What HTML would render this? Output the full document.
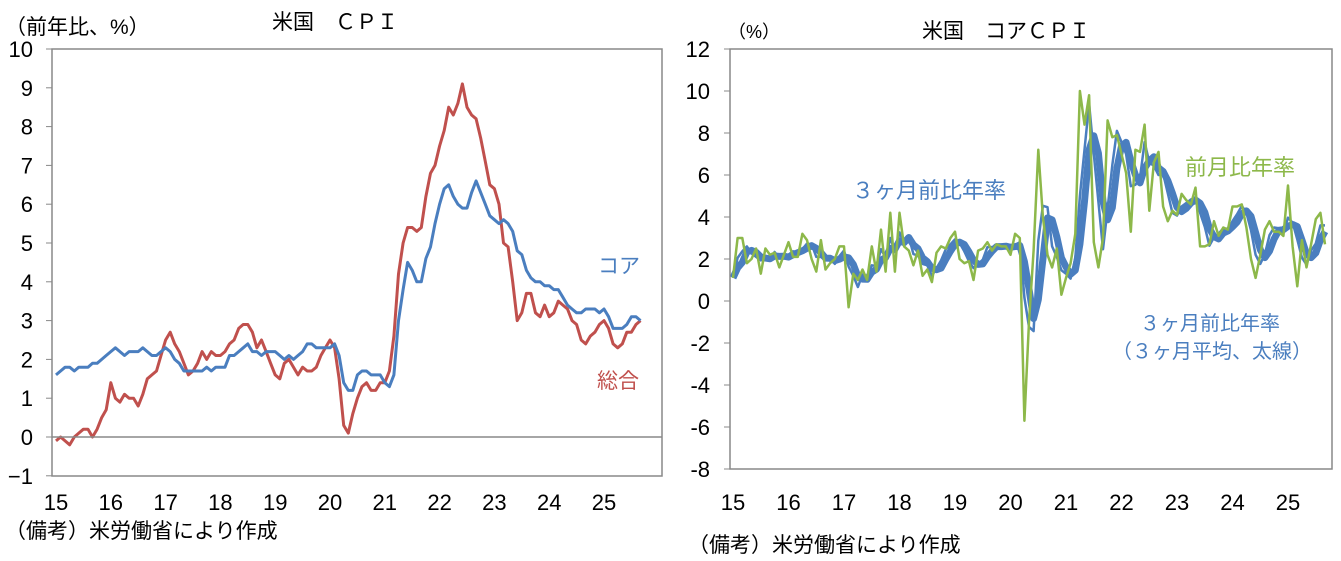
<!DOCTYPE html>
<html><head><meta charset="utf-8"><style>
body{margin:0;background:#fff;width:1341px;height:556px;overflow:hidden}
svg text{font-family:"Liberation Sans","Noto Sans CJK JP",sans-serif}
</style></head><body>
<svg id="s" width="1341" height="556" xmlns="http://www.w3.org/2000/svg">
<rect width="1341" height="556" fill="#fff"/>
<text x="5" y="34" font-size="21" fill="#000">（前年比、%）</text>
<text x="272" y="29" font-size="21" fill="#000">米国　ＣＰＩ</text>
<g id="L"></g>
<rect x="52" y="49" width="610" height="427" fill="none" stroke="#888" stroke-width="1.5"/>
<line x1="52" y1="437" x2="662" y2="437" stroke="#888" stroke-width="1.5"/>
<text x="598" y="273" font-size="21" fill="#4a7ebf">コア</text>
<text x="597" y="388" font-size="21" fill="#c0504d">総合</text>
<text x="5" y="538" font-size="21" fill="#000">（備考）米労働省により作成</text>
<text x="728" y="38" font-size="18" fill="#000">（%）</text>
<text x="922" y="38" font-size="21" fill="#000">米国　コアＣＰＩ</text>
<g id="R"></g>
<rect x="730" y="49" width="602" height="420" fill="none" stroke="#888" stroke-width="1.5"/>
<text x="1185" y="175" font-size="22" fill="#8db84a">前月比年率</text>
<text x="852" y="198" font-size="22" fill="#4a7ebf">３ヶ月前比年率</text>
<text x="1140" y="330" font-size="20" fill="#4a7ebf">３ヶ月前比年率</text>
<text x="1112" y="358" font-size="20" fill="#4a7ebf">（３ヶ月平均、太線）</text>
<text x="688" y="552" font-size="21" fill="#000">（備考）米労働省により作成</text>
</svg>
<script>
var NS="http://www.w3.org/2000/svg";
function el(p,t,a,txt){var e=document.createElementNS(NS,t);for(var k in a)e.setAttribute(k,a[k]);if(txt!==undefined)e.textContent=txt;p.appendChild(e);return e;}
var L=document.getElementById('L');
function ly(v){return 437-v*38.8;}
function lx(i){return 56+i/12*54.8;}
for(var v=-1;v<=10;v++){el(L,'text',{x:33,y:ly(v)+8,'font-size':22,'text-anchor':'end'},v==-1?'−1':v);el(L,'line',{x1:46,x2:52,y1:ly(v),y2:ly(v),stroke:'#888'});}
for(var y=15;y<=25;y++){el(L,'text',{x:56+(y-15)*54.8,y:510,'font-size':22,'text-anchor':'middle'},y);}
var core=[1.6,1.7,1.8,1.8,1.7,1.8,1.8,1.8,1.9,1.9,2.0,2.1,2.2,2.3,2.2,2.1,2.2,2.2,2.2,2.3,2.2,2.1,2.1,2.2,2.3,2.2,2.0,1.9,1.7,1.7,1.7,1.7,1.7,1.8,1.7,1.8,1.8,1.8,2.1,2.1,2.2,2.3,2.4,2.2,2.2,2.1,2.2,2.2,2.2,2.1,2.0,2.1,2.0,2.1,2.2,2.4,2.4,2.3,2.3,2.3,2.3,2.4,2.1,1.4,1.2,1.2,1.6,1.7,1.7,1.6,1.6,1.6,1.4,1.3,1.6,3.0,3.8,4.5,4.3,4.0,4.0,4.6,4.9,5.5,6.0,6.4,6.5,6.2,6.0,5.9,5.9,6.3,6.6,6.3,6.0,5.7,5.6,5.5,5.6,5.5,5.3,4.8,4.7,4.3,4.1,4.0,4.0,3.9,3.9,3.8,3.8,3.6,3.4,3.3,3.2,3.2,3.3,3.3,3.3,3.2,3.3,3.1,2.8,2.8,2.8,2.9,3.1,3.1,3.0];
var head=[-0.1,0.0,-0.1,-0.2,0.0,0.1,0.2,0.2,0.0,0.2,0.5,0.7,1.4,1.0,0.9,1.1,1.0,1.0,0.8,1.1,1.5,1.6,1.7,2.1,2.5,2.7,2.4,2.2,1.9,1.6,1.7,1.9,2.2,2.0,2.2,2.1,2.1,2.2,2.4,2.5,2.8,2.9,2.9,2.7,2.3,2.5,2.2,1.9,1.6,1.5,1.9,2.0,1.8,1.6,1.8,1.7,1.7,1.8,2.1,2.3,2.5,2.3,1.5,0.3,0.1,0.6,1.0,1.3,1.4,1.2,1.2,1.4,1.4,1.7,2.6,4.2,5.0,5.4,5.4,5.3,5.4,6.2,6.8,7.0,7.5,7.9,8.5,8.3,8.6,9.1,8.5,8.3,8.2,7.7,7.1,6.5,6.4,6.0,5.0,4.9,4.0,3.0,3.2,3.7,3.7,3.2,3.1,3.4,3.1,3.2,3.5,3.4,3.3,3.0,2.9,2.5,2.4,2.6,2.7,2.9,3.0,2.8,2.4,2.3,2.4,2.7,2.7,2.9,3.0];
function path(g,arr,fx,fy,c,w){el(g,'polyline',{points:arr.map(function(v,i){return fx(i).toFixed(1)+','+fy(v).toFixed(1)}).join(' '),fill:'none',stroke:c,'stroke-width':w,'stroke-linejoin':'round'});}
path(L,head,lx,ly,'#c0504d',3);
path(L,core,lx,ly,'#4a7ebf',3);
var R=document.getElementById('R');
function ry(v){return 301-v*21;}
function rx(i){return 733+i/12*55.5;}
for(var v=-8;v<=12;v+=2){el(R,'text',{x:710,y:ry(v)+8,'font-size':22,'text-anchor':'end'},v);el(R,'line',{x1:724,x2:730,y1:ry(v),y2:ry(v),stroke:'#888'});}
for(var y=15;y<=25;y++){el(R,'text',{x:733+(y-15)*55.5,y:510,'font-size':22,'text-anchor':'middle'},y);}
var g=[1.1,3.0,3.0,1.8,2.0,2.5,1.3,2.5,2.2,2.3,1.6,2.2,2.8,2.1,2.1,3.2,2.9,2.0,1.4,2.9,1.5,1.8,2.0,2.6,2.6,-0.3,1.3,1.0,1.5,1.0,2.6,1.4,3.4,1.4,4.2,1.4,4.2,2.6,2.4,1.7,2.4,1.2,1.5,0.9,2.3,2.6,2.5,3.0,3.3,2.0,1.8,1.9,1.0,2.4,2.5,2.8,2.4,2.7,2.6,2.6,2.2,3.2,3.0,-5.7,-1.0,2.4,7.2,4.0,2.2,1.6,2.5,0.3,1.1,1.8,3.2,10.0,8.4,9.8,2.8,1.6,3.0,8.6,7.8,7.9,7.0,6.1,3.3,7.2,7.1,8.4,4.3,6.6,7.1,4.5,3.8,4.3,4.1,5.1,4.8,4.6,5.4,2.6,2.6,2.7,3.8,3.1,3.5,3.4,4.5,4.5,4.6,3.5,2.0,1.1,2.2,3.4,3.8,3.3,3.3,3.1,5.5,2.6,0.7,2.9,1.6,2.7,3.9,4.2,2.7];
var t=g.map(function(v,i){var a=g.slice(Math.max(0,i-2),i+1);return a.reduce(function(s,x){return s+x},0)/a.length;});
var th=t.map(function(v,i){var a=t.slice(Math.max(0,i-2),i+1);return a.reduce(function(s,x){return s+x},0)/a.length;});
path(R,th,rx,ry,'#4a7ebf',7);
path(R,t,rx,ry,'#4a7ebf',2.5);
path(R,g,rx,ry,'#8db84a',2.5);
</script>
</body></html>
